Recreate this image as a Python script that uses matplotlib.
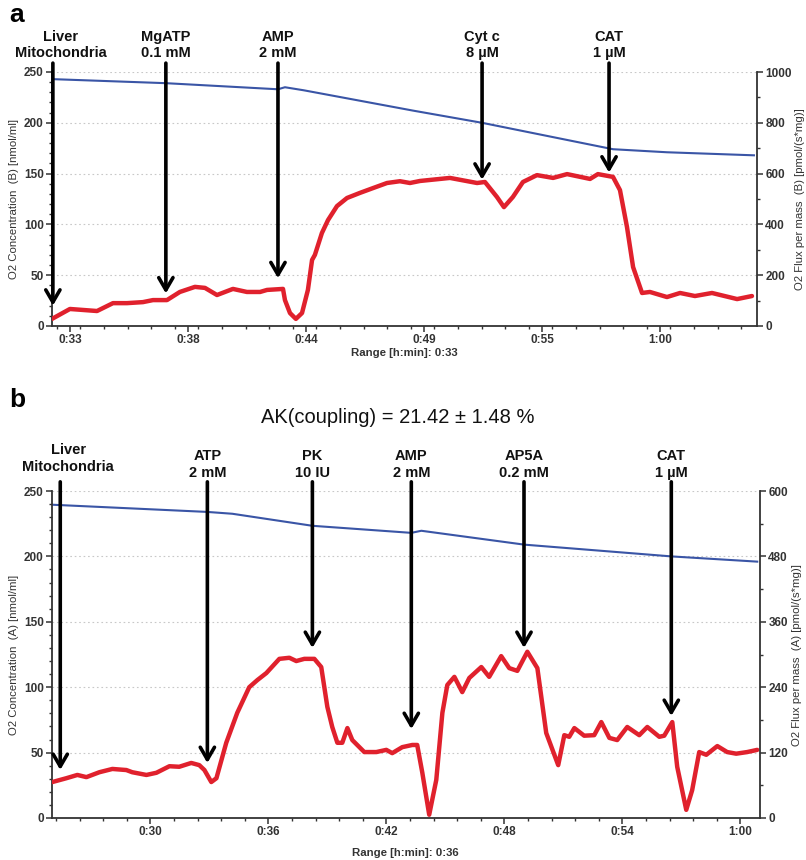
import matplotlib
matplotlib.use("Agg")
import matplotlib.pyplot as plt
from matplotlib.ticker import MultipleLocator, FixedLocator

plt.rcParams['font.family'] = ['Liberation Sans', 'DejaVu Sans']

# ---------------- Panel a data ----------------
a_conc_t = [32.18, 37.39, 42.52, 42.84, 43.7, 48.7, 51.86, 57.85, 60.32, 64.3]
a_conc_v = [243, 239, 233, 235, 232, 212, 200, 174, 171, 168]
a_flux_t = [32.18, 33.00, 34.24, 34.97, 35.61, 36.34, 36.80, 37.44, 38.03, 38.72,
            39.18, 39.73, 40.46, 41.10, 41.70, 42.02, 42.75, 42.84, 43.07, 43.34,
            43.62, 43.89, 44.08, 44.21, 44.53, 44.81, 45.22, 45.68, 46.27, 46.87,
            47.51, 48.10, 48.56, 49.02, 50.39, 51.63, 51.99, 52.54, 52.86, 53.27,
            53.73, 54.37, 55.11, 55.75, 56.80, 57.16, 57.85, 58.17, 58.49, 58.77,
            59.18, 59.54, 60.32, 60.92, 61.60, 62.38, 63.34, 63.53, 64.21]
a_flux_v = [28, 67, 59, 90, 90, 94, 102, 102, 134, 154,
            150, 122, 146, 134, 134, 142, 146, 102, 51, 28,
            51, 142, 260, 280, 366, 417, 472, 504, 524, 543,
            563, 570, 563, 571, 583, 563, 567, 508, 468, 508,
            567, 594, 583, 598, 579, 598, 587, 535, 390, 232,
            130, 134, 114, 130, 118, 130, 110, 106, 118]
a_events = ["Liver\nMitochondria", "MgATP\n0.1 mM", "AMP\n2 mM", "Cyt c\n8 µM", "CAT\n1 µM"]
a_event_t = [32.22, 37.39, 42.52, 51.86, 57.67]
a_event_tip = [20, 32, 47, 144, 151]
a_xtick_labels = ["0:33", "0:38", "0:44", "0:49", "0:55", "1:00"]
a_xtick_pos = [33.0, 38.4, 43.8, 49.2, 54.6, 60.0]

# ---------------- Panel b data ----------------
b_conc_t = [25.02, 32.90, 34.17, 38.24, 43.27, 43.78, 49.01, 56.49, 60.86]
b_conc_v = [239.5, 234, 232.6, 223.4, 218, 219.6, 209, 200, 196]
b_flux_t = [25.02, 25.73, 26.29, 26.75, 27.41, 28.07, 28.78, 29.08, 29.80, 30.31,
            30.97, 31.47, 32.08, 32.49, 32.75, 33.10, 33.36, 33.86, 34.42, 35.03,
            35.44, 35.90, 36.56, 37.07, 37.42, 37.83, 38.34, 38.69, 39.00, 39.25,
            39.51, 39.76, 40.02, 40.27, 40.88, 41.49, 42.00, 42.30, 42.81, 43.32,
            43.57, 43.83, 44.18, 44.54, 44.85, 45.10, 45.46, 45.86, 46.22, 46.83,
            47.23, 47.84, 48.25, 48.66, 49.17, 49.68, 50.13, 50.74, 51.05, 51.30,
            51.56, 52.06, 52.57, 52.93, 53.34, 53.74, 54.25, 54.86, 55.27, 55.88,
            56.13, 56.54, 56.79, 57.25, 57.55, 57.91, 58.27, 58.83, 59.33, 59.79,
            60.35, 60.86]
b_flux_v = [66, 73, 79, 75, 84, 90, 88, 84, 79, 83,
            95, 94, 101, 97, 88, 66, 73, 138, 193, 240,
            253, 266, 292, 294, 288, 292, 292, 277, 204, 167,
            138, 138, 165, 143, 121, 121, 125, 119, 130, 134,
            134, 83, 6, 70, 193, 244, 259, 231, 257, 277,
            259, 297, 275, 270, 305, 275, 156, 97, 152, 149,
            165, 151, 152, 176, 147, 143, 167, 152, 167, 149,
            151, 176, 94, 15, 51, 121, 116, 132, 121, 118,
            121, 125]
b_events = ["Liver\nMitochondria", "ATP\n2 mM", "PK\n10 IU", "AMP\n2 mM", "AP5A\n0.2 mM", "CAT\n1 µM"]
b_event_t = [25.42, 32.90, 38.24, 43.27, 49.00, 56.49]
b_event_tip = [36.7, 42, 130, 68, 130, 78]
b_xtick_labels = ["0:30", "0:36", "0:42", "0:48", "0:54", "1:00"]
b_xtick_pos = [30, 36, 42, 48, 54, 60]

W, H = 806, 860
fig = plt.figure(figsize=(W / 100, H / 100), dpi=100)


def px(x, y):
    return x / W, 1 - y / H


RED = '#e0212d'
BLUE = '#3a55a6'
GRAY = '#333333'


def panel(rect, xlim, xpos, xlabels, minor_step, conc_t, conc_v, flux_t, flux_v,
          right_max, right_step, right_minor,
          ev_labels, ev_t, ev_tip, arrow_start, text_y, liver_dy):
    ax = fig.add_axes(rect)
    ax2 = ax.twinx()
    ax.set_xlim(*xlim)
    ax.set_ylim(0, 250)
    ax2.set_ylim(0, right_max)
    for a in (ax, ax2):
        a.spines['top'].set_visible(False)
        for s in a.spines.values():
            s.set_color(GRAY)
            s.set_linewidth(1.3)
    ax.spines['right'].set_visible(False)
    ax2.spines['left'].set_visible(False)
    ax2.spines['bottom'].set_visible(False)

    ax.xaxis.set_major_locator(FixedLocator(xpos))
    ax.set_xticklabels(xlabels)
    ax.xaxis.set_minor_locator(MultipleLocator(minor_step))
    ax.yaxis.set_major_locator(MultipleLocator(50))
    ax.yaxis.set_minor_locator(MultipleLocator(10))
    ax2.yaxis.set_major_locator(MultipleLocator(right_step))
    ax2.yaxis.set_minor_locator(MultipleLocator(right_minor))
    for a in (ax, ax2):
        a.tick_params(which='major', length=4, width=1.1, colors=GRAY, labelsize=8.5, pad=2)
        a.tick_params(which='minor', length=2.5, width=1.0, colors=GRAY)
    for lab in ax.get_xticklabels() + ax.get_yticklabels() + ax2.get_yticklabels():
        lab.set_fontweight('bold')
        lab.set_color(GRAY)

    ax.grid(axis='y', which='major', ls=(0, (1.5, 2.5)), color='#c8c8c8', lw=0.8)
    gl = ax.get_ygridlines()
    gl[0].set_visible(False)
    gl[-1].set_visible(False)

    ax.plot(conc_t, conc_v, color=BLUE, lw=1.5, zorder=2)
    ax2.plot(flux_t, flux_v, color=RED, lw=3.2, solid_capstyle='round',
             solid_joinstyle='round')

    for i, (lab, t, tip) in enumerate(zip(ev_labels, ev_t, ev_tip)):
        ax.annotate('', xy=(t, tip), xycoords='data',
                    xytext=(t, arrow_start), textcoords=ax.get_xaxis_transform(),
                    arrowprops=dict(arrowstyle='->,head_length=0.55,head_width=0.32',
                                    lw=2.6, color='black', shrinkA=0, shrinkB=0,
                                    mutation_scale=16),
                    annotation_clip=False, zorder=5)
        dx = 8 if i == 0 else 0
        dy = liver_dy if i == 0 else 0
        ax.annotate(lab, xy=(t, text_y), xycoords=ax.get_xaxis_transform(),
                    xytext=(dx * 0.72, dy * 0.72), textcoords='offset points',
                    ha='center', va='center', fontsize=10.5, fontweight='bold',
                    linespacing=1.25, annotation_clip=False, color='#111111')
    return ax, ax2


# Panel a
panel([52 / W, 1 - 326 / H, (757 - 52) / W, (326 - 72) / H], (32.18, 64.44),
      a_xtick_pos, a_xtick_labels, 1.08, a_conc_t, a_conc_v, a_flux_t, a_flux_v,
      1000, 200, 100, a_events, a_event_t, a_event_tip, 1.035, 1.106, 0)
# Panel b
panel([52 / W, 1 - 818 / H, (760 - 52) / W, (818 - 491) / H], (25.0, 61.0),
      b_xtick_pos, b_xtick_labels, 1.2, b_conc_t, b_conc_v, b_flux_t, b_flux_v,
      600, 120, 60, b_events, b_event_t, b_event_tip, 1.028, 1.082, 6)

# Axis labels and titles
fig.text(*px(14, 199), "O2 Concentration  (B) [nmol/ml]", rotation=90, ha='center', va='center',
         fontsize=8.2, color=GRAY)
fig.text(*px(800, 199), "O2 Flux per mass  (B) [pmol/(s*mg)]", rotation=90, ha='center', va='center',
         fontsize=8.2, color=GRAY)
fig.text(*px(404, 353), "Range [h:min]: 0:33", ha='center', va='center', fontsize=8.2,
         fontweight='bold', color=GRAY)

fig.text(*px(14, 655), "O2 Concentration  (A) [nmol/ml]", rotation=90, ha='center', va='center',
         fontsize=8.2, color=GRAY)
fig.text(*px(797, 655), "O2 Flux per mass  (A) [pmol/(s*mg)]", rotation=90, ha='center', va='center',
         fontsize=8.2, color=GRAY)
fig.text(*px(405, 853), "Range [h:min]: 0:36", ha='center', va='center', fontsize=8.2,
         fontweight='bold', color=GRAY)

fig.text(*px(398, 418), "AK(coupling) = 21.42 ± 1.48 %", ha='center', va='center',
         fontsize=14.5, color='#111111')

fig.text(*px(17, 15), "a", ha='center', va='center', fontsize=19, fontweight='bold')
fig.text(*px(17, 400), "b", ha='center', va='center', fontsize=19, fontweight='bold')

fig.savefig("out.png", dpi=100)
